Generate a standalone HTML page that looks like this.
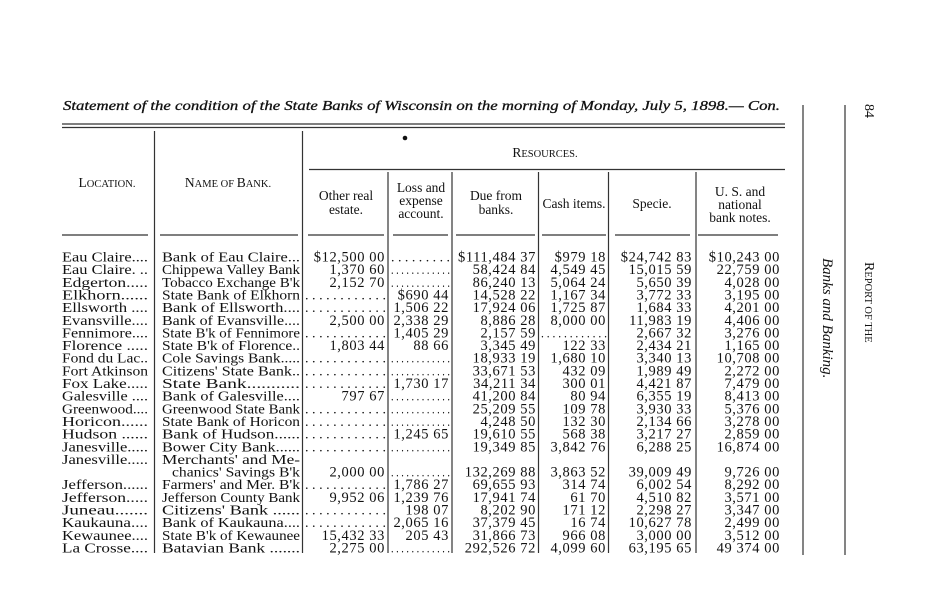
<!DOCTYPE html>
<html><head><meta charset="utf-8"><style>
html,body{margin:0;padding:0;background:#fff;}
svg{display:block;}
text{font-family:"Liberation Serif",serif;fill:#111;}
.n{font-size:14.5px;letter-spacing:0.6px;}
</style></head><body>
<svg id="s" width="950" height="600" viewBox="0 0 950 600" xmlns="http://www.w3.org/2000/svg">
<rect width="950" height="600" fill="#fff"/>
<text x="63" y="110" font-size="14" font-style="italic" stroke="#111" stroke-width="0.3" textLength="717" lengthAdjust="spacingAndGlyphs">Statement of the condition of the State Banks of Wisconsin on the morning of Monday, July 5, 1898.— Con.</text>
<g stroke="#333" stroke-width="1.2">
<line x1="62" y1="124" x2="785" y2="124"/><line x1="62" y1="127.5" x2="785" y2="127.5"/>
<line x1="309" y1="169.5" x2="785" y2="169.5"/>
<line x1="154.5" y1="131" x2="154.5" y2="553"/>
<line x1="302.5" y1="131" x2="302.5" y2="553"/>
<line x1="388" y1="172" x2="388" y2="553"/>
<line x1="452" y1="172" x2="452" y2="553"/>
<line x1="538.5" y1="172" x2="538.5" y2="553"/>
<line x1="608.5" y1="172" x2="608.5" y2="553"/>
<line x1="696" y1="172" x2="696" y2="553"/>
<line x1="803" y1="105" x2="803" y2="555"/>
<line x1="845" y1="105" x2="845" y2="555"/>
<line x1="62" y1="235" x2="148" y2="235"/><line x1="160" y1="235" x2="298" y2="235"/>
<line x1="308" y1="235" x2="384" y2="235"/><line x1="393" y1="235" x2="448" y2="235"/>
<line x1="456" y1="235" x2="535" y2="235"/><line x1="542" y1="235" x2="606" y2="235"/>
<line x1="615" y1="235" x2="690" y2="235"/><line x1="698" y1="235" x2="778" y2="235"/>
</g>
<circle cx="405" cy="138" r="2.3" fill="#111"/>
<g font-size="13.5" text-anchor="middle">
<text x="107" y="187">L<tspan font-size="10.5">OCATION.</tspan></text>
<text x="228" y="187">N<tspan font-size="10.5">AME OF </tspan>B<tspan font-size="10.5">ANK.</tspan></text>
<text x="545" y="157">R<tspan font-size="10.5">ESOURCES.</tspan></text>
<text x="346" y="200">Other real</text><text x="346" y="214">estate.</text>
<text x="421" y="192">Loss and</text><text x="421" y="205">expense</text><text x="421" y="218">account.</text>
<text x="496" y="200">Due from</text><text x="496" y="214">banks.</text>
<text x="574" y="208">Cash items.</text>
<text x="652" y="208">Specie.</text>
<text x="740" y="196">U. S. and</text><text x="740" y="209">national</text><text x="740" y="222">bank notes.</text>
</g>
<text transform="translate(865,104) rotate(90)" font-size="14">84</text>
<text transform="translate(865,262) rotate(90)" font-size="14">R<tspan font-size="10.5">EPORT OF THE</tspan></text>
<text transform="translate(823,258) rotate(90)" font-size="15" font-style="italic">Banks and Banking.</text>
<g id="rows" font-size="14"></g>
</svg>
<script>
var D='. . . . . . . . . . . .';
var rows=[
["Eau Claire....","Bank of Eau Claire...","$12,500 00",". . . . . .  . . .","$111,484 37","$979 18","$24,742 83","$10,243 00"],
["Eau Claire. ..","Chippewa Valley Bank","1,370 60",D,"58,424 84","4,549 45","15,015 59","22,759 00"],
["Edgerton.....","Tobacco Exchange B'k","2,152 70",D,"86,240 13","5,064 24","5,650 39","4,028 00"],
["Elkhorn......","State Bank of Elkhorn",D,"$690 44","14,528 22","1,167 34","3,772 33","3,195 00"],
["Ellsworth ....","Bank of Ellsworth....",D,"1,506 22","17,924 06","1,725 87","1,684 33","4,201 00"],
["Evansville....","Bank of Evansville....","2,500 00","2,338 29","8,886 28","8,000 00","11,983 19","4,406 00"],
["Fennimore....","State B'k of Fennimore",D,"1,405 29","2,157 59",D,"2,667 32","3,276 00"],
["Florence .....","State B'k of Florence..","1,803 44","88 66","3,345 49","122 33","2,434 21","1,165 00"],
["Fond du Lac..","Cole Savings Bank.....",D,D,"18,933 19","1,680 10","3,340 13","10,708 00"],
["Fort Atkinson","Citizens' State Bank..",D,D,"33,671 53","432 09","1,989 49","2,272 00"],
["Fox Lake.....","State Bank...........",D,"1,730 17","34,211 34","300 01","4,421 87","7,479 00"],
["Galesville ....","Bank of Galesville....","797 67",D,"41,200 84","80 94","6,355 19","8,413 00"],
["Greenwood....","Greenwood State Bank",D,D,"25,209 55","109 78","3,930 33","5,376 00"],
["Horicon......","State Bank of Horicon",D,D,"4,248 50","132 30","2,134 66","3,278 00"],
["Hudson ......","Bank of Hudson......",D,"1,245 65","19,610 55","568 38","3,217 27","2,859 00"],
["Janesville.....","Bower City Bank......",D,D,"19,349 85","3,842 76","6,288 25","16,874 00"],
["Janesville.....","Merchants' and Me-","","","","","",""],
["","   chanics' Savings B'k","2,000 00",D,"132,269 88","3,863 52","39,009 49","9,726 00"],
["Jefferson......","Farmers' and Mer. B'k",D,"1,786 27","69,655 93","314 74","6,002 54","8,292 00"],
["Jefferson.....","Jefferson County Bank","9,952 06","1,239 76","17,941 74","61 70","4,510 82","3,571 00"],
["Juneau.......","Citizens' Bank ......",D,"198 07","8,202 90","171 12","2,298 27","3,347 00"],
["Kaukauna....","Bank of Kaukauna....",D,"2,065 16","37,379 45","16 74","10,627 78","2,499 00"],
["Kewaunee....","State B'k of Kewaunee","15,432 33","205 43","31,866 73","966 08","3,000 00","3,512 00"],
["La Crosse....","Batavian Bank .......","2,275 00",D,"292,526 72","4,099 60","63,195 65","49 374 00"]];
var cols=[[305,386],[391,450],[455,537],[541,607],[612,693],[698,781]];
var NS="http://www.w3.org/2000/svg",g=document.getElementById('rows');
function t(x,y,s,anchor,len,cls){var e=document.createElementNS(NS,'text');e.setAttribute('x',x);e.setAttribute('y',y);
if(anchor)e.setAttribute('text-anchor',anchor);if(len){e.setAttribute('textLength',len);e.setAttribute('lengthAdjust','spacingAndGlyphs');}
if(cls)e.setAttribute('class',cls);
e.setAttribute('xml:space','preserve');e.textContent=s;g.appendChild(e);return e;}
rows.forEach(function(r,i){var y=261.5+i*12.65;
if(r[0])t(62,y,r[0],null,86);
if(r[1]){if(r[1].indexOf('   ')==0)t(172,y,r[1].trim(),null,128);else t(162,y,r[1],null,138);}
for(var c=0;c<6;c++){var v=r[c+2];if(!v)continue;var a=cols[c];
if(v[0]=='.')t(a[0],y,v,null,a[1]-a[0]);else t(a[1]-1,y,v,'end',null,'n');}
});
</script>
</body></html>
